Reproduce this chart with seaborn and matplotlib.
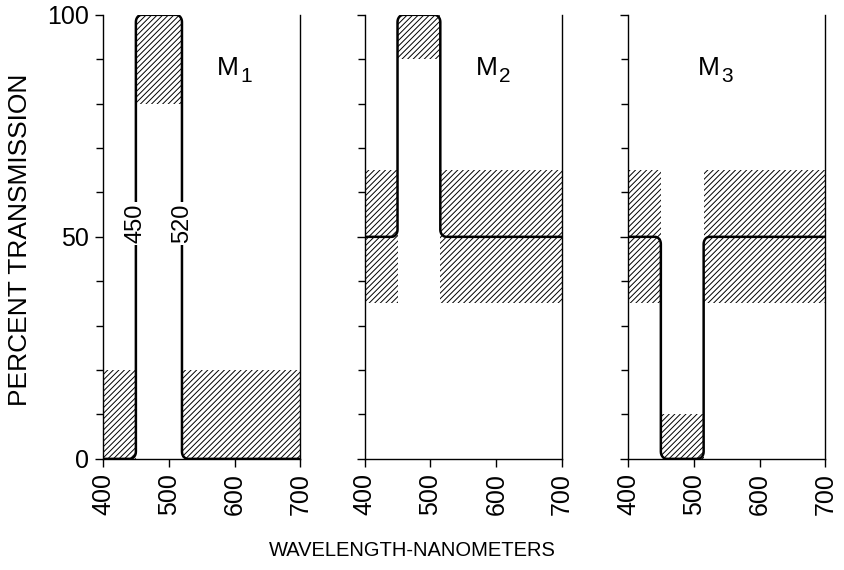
import numpy as np
import pandas as pd
import matplotlib
matplotlib.use("Agg")
import matplotlib.pyplot as plt
import seaborn as sns

# transmission curves: breakpoints (nm) and level (%) of each step
m1_edges = [400, 450, 520, 700]
m1_levels = [0, 100, 0]
m2_edges = [400, 450, 515, 700]
m2_levels = [50, 100, 50]
m3_edges = [400, 450, 515, 700]
m3_levels = [50, 0, 50]

# tolerance boxes (hatched): left, right, bottom, top
m1_boxes = [(400, 450, 0, 20), (450, 520, 80, 100), (520, 700, 0, 20)]
m2_boxes = [(400, 450, 35, 65), (450, 515, 90, 100), (515, 700, 35, 65)]
m3_boxes = [(400, 450, 35, 65), (450, 515, 0, 10), (515, 700, 35, 65)]

subs = ["1", "2", "3"]
name_pos = [(590, 88), (585, 88), (523, 88)]

sns.set_style("ticks")
plt.rcParams["font.family"] = ["Liberation Sans", "DejaVu Sans"]
plt.rcParams["hatch.linewidth"] = 0.7
for k in ["text.color", "axes.labelcolor", "xtick.color", "ytick.color", "axes.edgecolor"]:
    plt.rcParams[k] = "black"


def rounded_step(edges, levels, rx=9, ry=1.6, n=8):
    # step path with small rounded corners
    xs, ys = [edges[0]], [levels[0]]
    for i in range(1, len(levels)):
        x0 = edges[i]
        a, b = levels[i - 1], levels[i]
        s = 1 if b > a else -1
        t = np.linspace(0, np.pi / 2, n)
        # corner leaving level a
        xs += list(x0 - rx + rx * np.sin(t))
        ys += list(a + s * ry * (1 - np.cos(t)))
        # corner arriving at level b
        xs += list(x0 + rx - rx * np.cos(t))
        ys += list(b - s * ry + s * ry * np.sin(t))
    xs.append(edges[-1])
    ys.append(levels[-1])
    return pd.DataFrame({"nm": xs, "pct": ys})


fig = plt.figure(figsize=(8.44, 5.70), dpi=100)
lefts = [0.122, 0.432, 0.744]
axes = [fig.add_axes([l, 0.195, 0.234, 0.779]) for l in lefts]

curves = [(m1_edges, m1_levels), (m2_edges, m2_levels), (m3_edges, m3_levels)]
boxes = [m1_boxes, m2_boxes, m3_boxes]

for i, ax in enumerate(axes):
    for (x0, x1, y0, y1) in boxes[i]:
        ax.bar(x0, y1 - y0, width=x1 - x0, bottom=y0, align="edge",
               fill=False, hatch="//////", edgecolor="black", linewidth=0)
    df = rounded_step(*curves[i])
    sns.lineplot(data=df, x="nm", y="pct", sort=False, ax=ax,
                 color="black", linewidth=1.8, estimator=None)
    ax.set_xlim(400, 700)
    ax.set_ylim(0, 100)
    ax.set_xlabel("")
    ax.set_ylabel("")
    ax.set_xticks([400, 500, 600, 700])
    ax.set_xticklabels(["400", "500", "600", "700"], rotation=90, fontsize=18)
    ax.set_yticks([0, 50, 100])
    ax.set_yticks(np.arange(0, 101, 10), minor=True)
    ax.tick_params(axis="both", which="major", length=6, width=1, pad=4)
    ax.tick_params(axis="y", which="minor", length=5, width=1)
    if i == 0:
        ax.set_yticklabels(["0", "50", "100"], fontsize=18)
    else:
        ax.set_yticklabels([])
    ax.spines["top"].set_visible(False)
    for s in ["left", "right", "bottom"]:
        ax.spines[s].set_linewidth(1.0)
    ax.text(name_pos[i][0], name_pos[i][1], "M", fontsize=19,
            ha="center", va="center")
    ax.annotate(subs[i], (name_pos[i][0], name_pos[i][1]), xytext=(9, -6),
                textcoords="offset points", fontsize=15, ha="left", va="center")

# wavelength markers on first panel
for x, lab in [(450, "450"), (520, "520")]:
    axes[0].text(x, 53, lab, rotation=90, ha="center", va="center", fontsize=17,
                 bbox=dict(facecolor="white", edgecolor="none", pad=1.5))

fig.text(0.488, 0.035, "WAVELENGTH-NANOMETERS", ha="center", va="center",
         fontsize=14.5)
fig.text(0.024, 0.58, "PERCENT TRANSMISSION", ha="center", va="center",
         rotation=90, fontsize=19)

fig.savefig("out.png", dpi=100)
